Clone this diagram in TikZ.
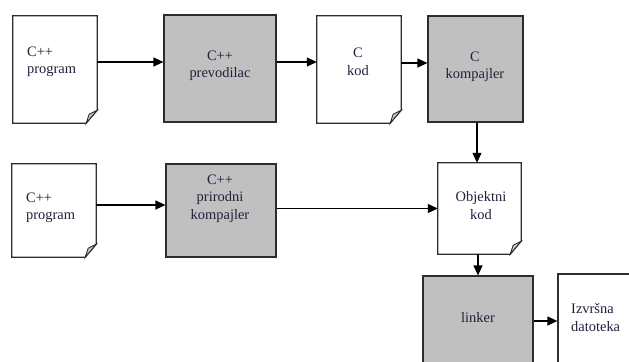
\documentclass[tikz,border=0pt]{standalone}
\usepackage{fontspec}
\setmainfont{Liberation Serif}
\usetikzlibrary{arrows.meta,calc}
\definecolor{boxgray}{RGB}{192,192,192}
\definecolor{edge}{RGB}{45,45,45}
\definecolor{txt}{RGB}{30,34,58}
\definecolor{curl}{RGB}{200,200,200}
\tikzset{
  shape box/.style={rectangle, inner sep=0pt},
  procbox/.style={shape box, draw=edge, line width=1.2bp, fill=boxgray},
  docbox/.style={shape box},
  lbl/.style={font=\fontsize{14.5}{17.5}\selectfont, text=txt, inner sep=0pt},
  arr/.style={draw=black, line width=1.2bp, -{Triangle[length=10bp,width=9bp]}},
}
\newcommand{\docshape}[1]{%
  \draw[edge, line width=1.2bp, fill=white]
    (#1.north west) -- (#1.north east) -- ($(#1.south east)+(0,-13)$)
    -- ($(#1.south east)+(-11,0)$) -- (#1.south west) -- cycle;
  \draw[edge, line width=0.9bp, fill=curl]
    ($(#1.south east)+(-11,0)$) -- ($(#1.south east)+(-8,-9)$)
    -- ($(#1.south east)+(0,-13)$) -- cycle;
}
\begin{document}
\begin{tikzpicture}[x=1bp,y=-1bp]
\useasboundingbox (0,0) rectangle (629,361);
\clip (0,0) rectangle (629,361);

% shapes
\node[docbox, minimum width=84bp, minimum height=107bp] (p1) at (55,69.5) {};
\node[procbox, minimum width=112bp, minimum height=107bp] (prev) at (220,68.5) {};
\node[docbox, minimum width=84bp, minimum height=107bp] (ckod) at (359,69.5) {};
\node[procbox, minimum width=95bp, minimum height=106bp] (ckomp) at (475.5,69) {};
\node[docbox, minimum width=84bp, minimum height=93bp] (p2) at (54,210.5) {};
\node[procbox, minimum width=110bp, minimum height=93bp] (prir) at (221,210.5) {};
\node[docbox, minimum width=83bp, minimum height=91bp] (obj) at (479.5,208.5) {};
\node[procbox, minimum width=110bp, minimum height=100bp] (link) at (478,326) {};
\node[shape box, draw=edge, line width=1.2bp, fill=white, minimum width=90bp, minimum height=100bp] (izv) at (603,324) {};

\docshape{p1}
\docshape{ckod}
\docshape{p2}
\docshape{obj}

% labels
\node[lbl, anchor=west, align=left] (t1) at (27,62) {C++\\program};
\node[lbl, align=center] (t2) at (220,66) {C++\\prevodilac};
\node[lbl, align=center] (t3) at (358,62) {C\\kod};
\node[lbl, align=center] (t4) at (475,67) {C\\kompajler};
\node[lbl, anchor=west, align=left] (t5) at (26,208) {C++\\program};
\node[lbl, align=center] (t6) at (220,198.5) {C++\\prirodni\\kompajler};
\node[lbl, align=center] (t7) at (481,205.5) {Objektni\\kod};
\node[lbl] (t8) at (478,318) {linker};
\node[lbl, anchor=west, align=left] (t9) at (571,317.5) {Izvršna\\datoteka};

% connectors
\draw[arr] (p1.east |- 0,62) -- (prev.west |- 0,62);
\draw[arr] (prev.east |- 0,62) -- (ckod.west |- 0,62);
\draw[arr] (ckod.east |- 0,63) -- (ckomp.west |- 0,63);
\draw[arr] (ckomp.south -| 477,0) -- (obj.north -| 477,0);
\draw[arr] (p2.east |- 0,205) -- (prir.west |- 0,205);
\draw[arr] (prir.east |- 0,208.5) -- (obj.west |- 0,208.5);
\draw[arr] (obj.south -| 478,0) -- (link.north -| 478,0);
\draw[arr] (link.east |- 0,321) -- (izv.west |- 0,321);
\end{tikzpicture}
\end{document}
